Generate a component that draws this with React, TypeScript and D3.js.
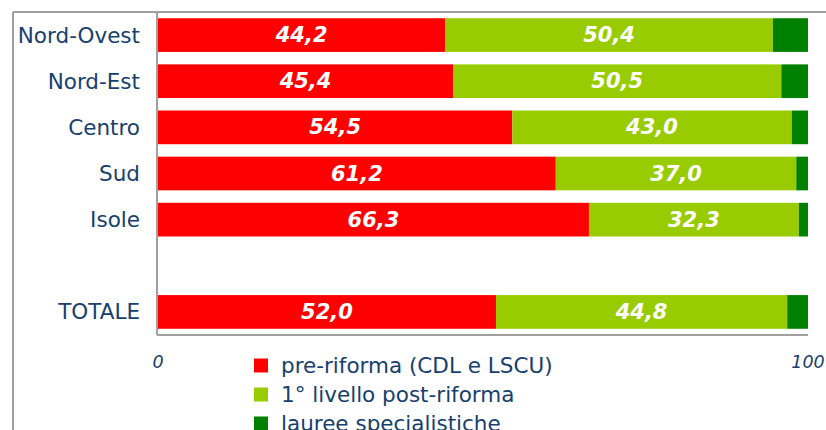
import * as d3 from "d3";

const CATEGORIES = ["Nord-Ovest", "Nord-Est", "Centro", "Sud", "Isole", "", "TOTALE"];
const PRE_RIFORMA = [44.2, 45.4, 54.5, 61.2, 66.3, null, 52.0];
const PRIMO_LIVELLO = [50.4, 50.5, 43.0, 37.0, 32.3, null, 44.8];
const SPECIALISTICHE = [5.4, 4.1, 2.5, 1.8, 1.4, null, 3.2];
const SERIES = ["pre-riforma (CDL e LSCU)", "1° livello post-riforma", "lauree specialistiche"];
const COLORS = ["#ff0000", "#99cc00", "#008000"];
const X_TICKS = [0, 100];

const W = 826;
const H = 430;
const PLOT = { left: 157, right: 808, top: 12, bottom: 335 };
const TEXT = "#17406d";
const FONT = "'DejaVu Sans', Verdana, sans-serif";

type Row = { cat: string; a: number; b: number; c: number; empty: boolean };

const rows: Row[] = CATEGORIES.map((cat, i) => ({
  cat,
  a: PRE_RIFORMA[i] ?? 0,
  b: PRIMO_LIVELLO[i] ?? 0,
  c: SPECIALISTICHE[i] ?? 0,
  empty: PRE_RIFORMA[i] == null,
}));

export default function App() {
  const x = d3.scaleLinear().domain([0, 100]).range([PLOT.left + 1, PLOT.right]);
  const y = d3
    .scaleBand()
    .domain(CATEGORIES.map((c, i) => `${i}`))
    .range([PLOT.top, PLOT.bottom])
    .paddingInner(0.27)
    .paddingOuter(0.135);

  const stack = d3.stack<Row>().keys(["a", "b", "c"]);
  const layers = stack(rows.filter((r) => !r.empty));
  const fmt = (v: number) => v.toFixed(1).replace(".", ",");

  return (
    <svg width={W} height={H} style={{ position: "absolute", left: 0, top: 0 }}>
      <rect width={W} height={H} fill="white" />
      {/* outer frame */}
      <line x1={13} x2={W} y1={12} y2={12} stroke="#a0a0a0" strokeWidth={2} />
      <line x1={13} x2={13} y1={12} y2={H} stroke="#a0a0a0" strokeWidth={2} />
      {/* plot axes */}
      <line x1={PLOT.left} x2={PLOT.left} y1={12} y2={PLOT.bottom} stroke="#a0a0a0" strokeWidth={2} />
      <line x1={PLOT.left} x2={PLOT.right} y1={PLOT.bottom} y2={PLOT.bottom} stroke="#a0a0a0" strokeWidth={2} />

      {layers.map((layer, li) => (
        <g key={layer.key} fill={COLORS[li]}>
          {layer.map((d) => {
            const idx = CATEGORIES.indexOf(d.data.cat);
            return (
              <rect
                key={d.data.cat}
                x={x(d[0])}
                y={y(`${idx}`)}
                width={x(d[1]) - x(d[0])}
                height={y.bandwidth()}
              />
            );
          })}
        </g>
      ))}

      {layers.slice(0, 2).map((layer) =>
        layer.map((d) => {
          const idx = CATEGORIES.indexOf(d.data.cat);
          return (
            <text
              key={`${layer.key}-${d.data.cat}`}
              x={(x(d[0]) + x(d[1])) / 2}
              y={(y(`${idx}`) ?? 0) + y.bandwidth() / 2}
              textAnchor="middle"
              dominantBaseline="central"
              fill="white"
              fontFamily={FONT}
              fontSize={21}
              fontWeight="bold"
              fontStyle="italic"
            >
              {fmt(d[1] - d[0])}
            </text>
          );
        })
      )}

      {CATEGORIES.map((cat, i) => (
        <text
          key={`cat-${i}`}
          x={140}
          y={(y(`${i}`) ?? 0) + y.bandwidth() / 2}
          textAnchor="end"
          dominantBaseline="central"
          fill={TEXT}
          fontFamily={FONT}
          fontSize={21.5}
        >
          {cat}
        </text>
      ))}

      {X_TICKS.map((t) => (
        <text
          key={`tick-${t}`}
          x={x(t)}
          y={368}
          textAnchor="middle"
          fill={TEXT}
          fontFamily={FONT}
          fontSize={17.5}
          fontStyle="italic"
        >
          {t}
        </text>
      ))}

      {SERIES.map((s, i) => (
        <g key={s} transform={`translate(254,${365.5 + i * 29})`}>
          <rect x={0} y={-7} width={14} height={14} fill={COLORS[i]} />
          <text
            x={27}
            y={0}
            dominantBaseline="central"
            fill={TEXT}
            fontFamily={FONT}
            fontSize={21.5}
          >
            {s}
          </text>
        </g>
      ))}
    </svg>
  );
}
